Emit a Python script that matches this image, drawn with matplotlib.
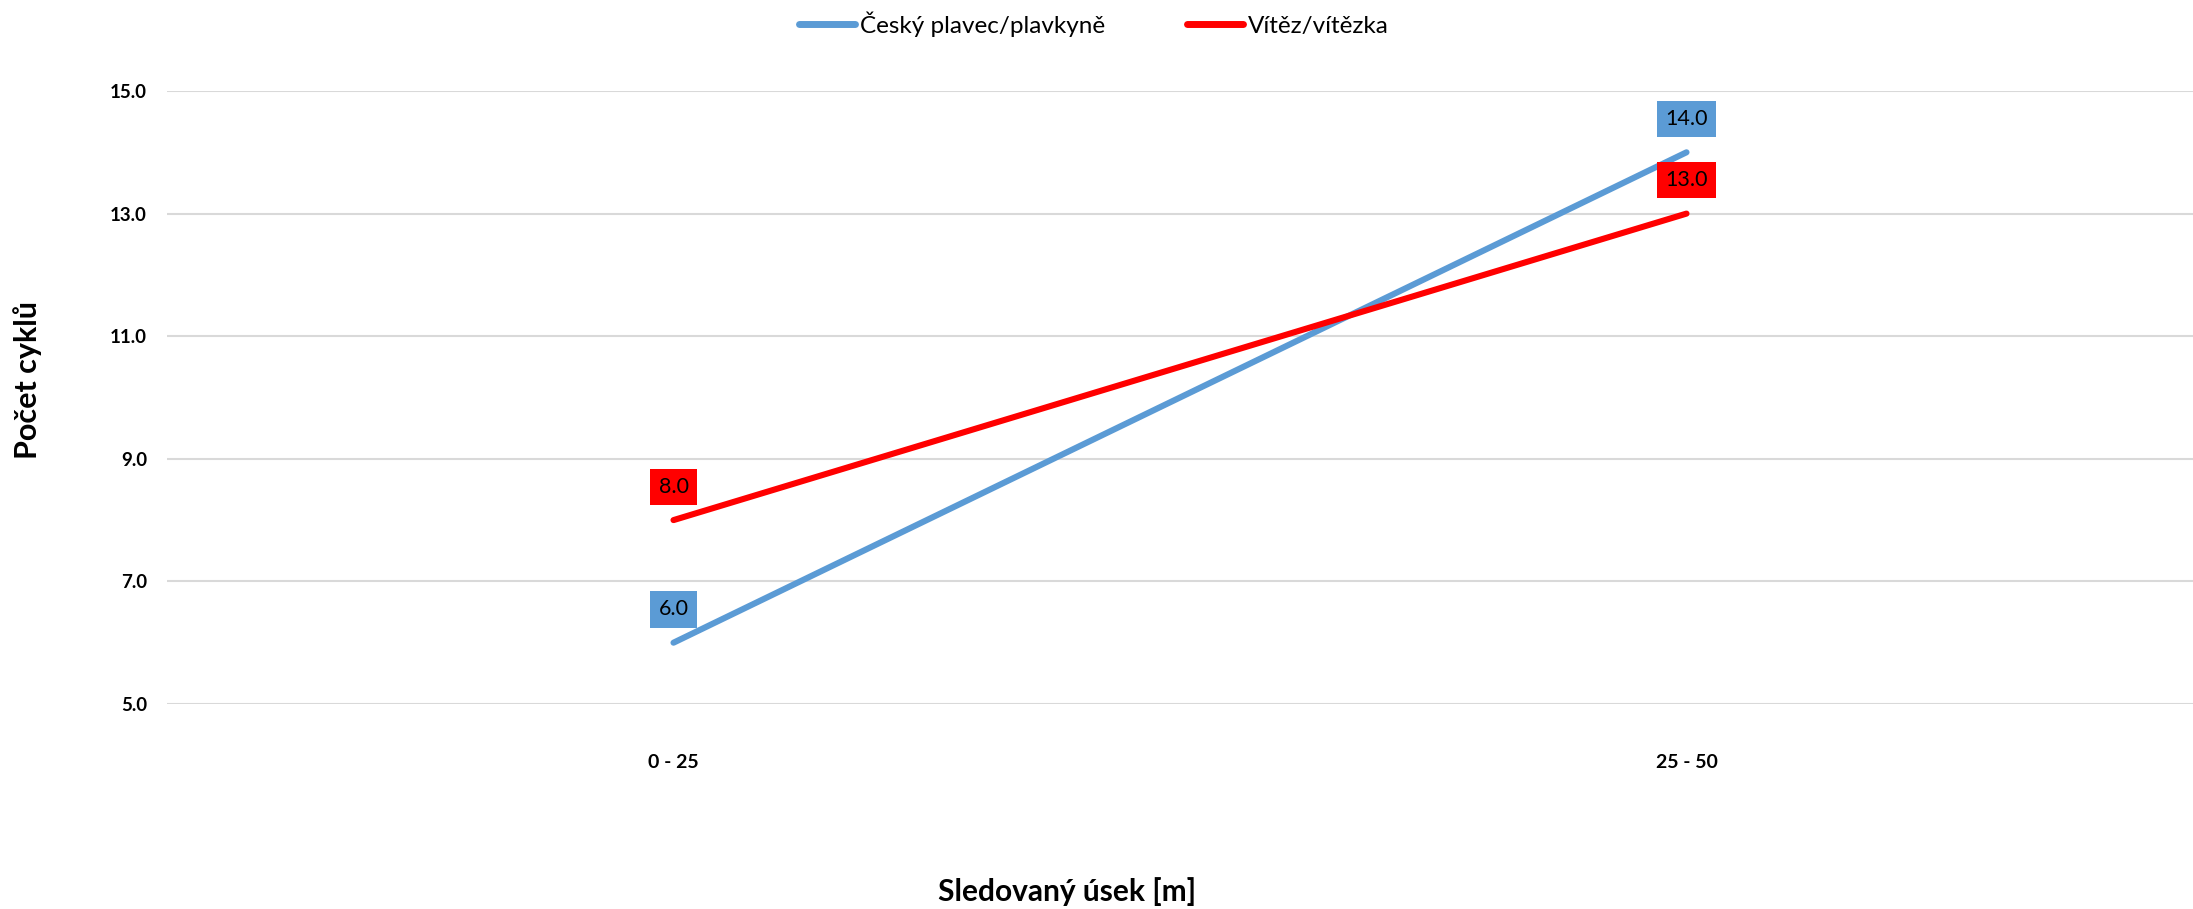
import matplotlib
matplotlib.use("Agg")
import matplotlib.pyplot as plt

# data
categories = ["0 - 25", "25 - 50"]
czech = [6.0, 14.0]
winner = [8.0, 13.0]
series_names = ["Český plavec/plavkyně", "Vítěz/vítězka"]
y_ticks = [5.0, 7.0, 9.0, 11.0, 13.0, 15.0]

blue = "#5b9bd5"
red = "#ff0000"

W, H = 2193, 909
fig = plt.figure(figsize=(W / 100, H / 100), dpi=100)
ax = fig.add_axes([167 / W, 1 - 704 / H, (W - 167) / W, (704 - 91) / H])

x = [0.25, 0.75]
ax.plot(x, czech, color=blue, lw=4.4, solid_capstyle="round", label=series_names[0], zorder=3)
ax.plot(x, winner, color=red, lw=4.4, solid_capstyle="round", label=series_names[1], zorder=4)

# data labels above the points
for vals, col in [(czech, blue), (winner, red)]:
    for xi, v in zip(x, vals):
        ax.annotate(f"{v:.1f}", (xi, v), xytext=(0, 24), textcoords="offset points",
                    ha="center", va="center", fontsize=15.5, family="Lato", color="black",
                    bbox=dict(boxstyle="square,pad=0.38", fc=col, ec="none"), zorder=5)

ax.set_xlim(0, 1)
ax.set_ylim(5, 15)
ax.set_yticks(y_ticks)
ax.set_yticklabels([f"{t:.1f}" for t in y_ticks], fontsize=13.5, fontweight="bold", family="Lato")
ax.set_xticks(x)
ax.set_xticklabels(categories, fontsize=14, fontweight="bold", family="Lato")
ax.tick_params(axis="x", length=0, pad=36)
ax.tick_params(axis="y", length=0, pad=14.4)
ax.grid(axis="y", color="#d9d9d9", lw=1.5)
ax.set_axisbelow(True)
for s in ax.spines.values():
    s.set_visible(False)

ax.set_xlabel("Sledovaný úsek [m]", fontsize=21.5, fontweight="bold", family="Lato")
ax.xaxis.set_label_coords((1067 - 167) / (W - 167), (704 - 892) / (704 - 91))
ax.xaxis.label.set_va("center")
ax.set_ylabel("Počet cyklů", fontsize=22, fontweight="bold", family="Lato")
ax.yaxis.set_label_coords((28 - 167) / (W - 167), (704 - 380) / (704 - 91))
ax.yaxis.label.set_va("center")

leg = fig.legend(loc="center", bbox_to_anchor=(1094 / W, 1 - 24 / H), ncol=2, frameon=False,
                 prop={"family": "Lato", "size": 17.5}, handlelength=2.3, handletextpad=0.2,
                 columnspacing=3.4)
for line in leg.get_lines():
    line.set_linewidth(5)

fig.savefig("out.png", dpi=100)
